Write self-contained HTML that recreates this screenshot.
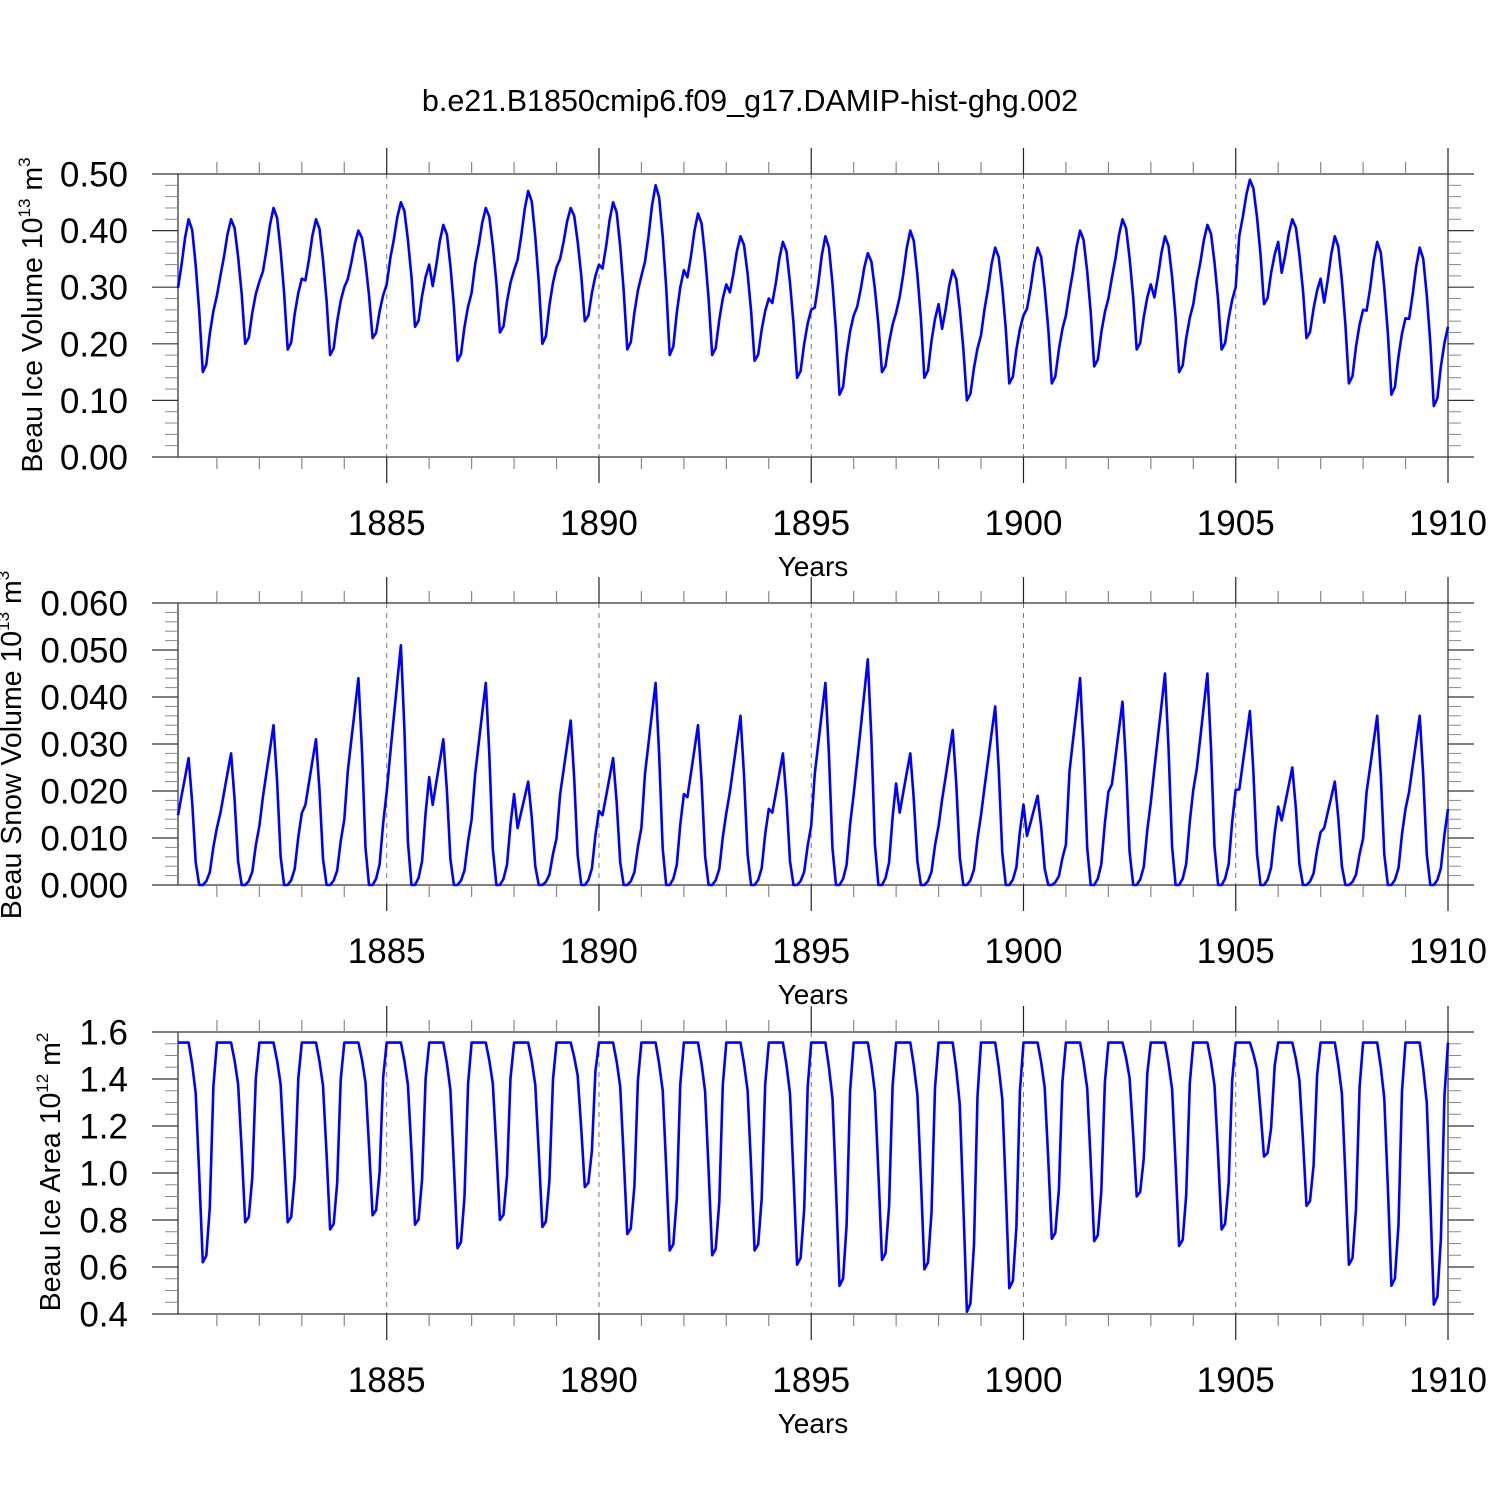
<!DOCTYPE html>
<html><head><meta charset="utf-8"><style>
html,body{margin:0;padding:0;background:#fff}
svg{display:block;font-family:"Liberation Sans",Arial,sans-serif}
</style></head><body>
<svg id="chart" width="1500" height="1500" viewBox="0 0 1500 1500" xmlns="http://www.w3.org/2000/svg">
<rect width="1500" height="1500" fill="#fff"/>
<text x="750" y="111" font-size="30.5" text-anchor="middle">b.e21.B1850cmip6.f09_g17.DAMIP-hist-ghg.002</text>
</svg>
<script>
// ---- data ----
const startYear = 1880;
const xTickYears = [1885, 1890, 1895, 1900, 1905, 1910];
// Ice volume (10^13 m^3) yearly peak / trough
const iceVolMax = [0.42,0.42,0.44,0.42,0.40,0.45,0.41,0.44,0.47,0.44,0.45,0.48,0.43,0.39,0.38,0.39,0.36,0.40,0.33,0.37,0.37,0.40,0.42,0.39,0.41,0.49,0.42,0.39,0.38,0.37];
const iceVolMin = [0.15,0.20,0.19,0.18,0.21,0.23,0.17,0.22,0.20,0.24,0.19,0.18,0.18,0.17,0.14,0.11,0.15,0.14,0.10,0.13,0.13,0.16,0.19,0.15,0.19,0.27,0.21,0.13,0.11,0.09];
const iceVolShape = [0.55,0.7,0.88,1,0.93,0.7,0.4,0,0.05,0.25,0.4,0.5];
// Snow volume (10^13 m^3) yearly peak
const snowMax = [0.027,0.028,0.034,0.031,0.044,0.051,0.031,0.043,0.022,0.035,0.027,0.043,0.034,0.036,0.028,0.043,0.048,0.028,0.033,0.038,0.019,0.044,0.039,0.045,0.045,0.037,0.025,0.022,0.036,0.036];
const snowShape = [0.55,0.7,0.85,1,0.65,0.18,0,0,0.03,0.1,0.3,0.45];
// Ice area (10^12 m^2) yearly trough, plateau
const areaMax = 1.555;
const areaMin = [0.62,0.79,0.79,0.76,0.82,0.78,0.68,0.80,0.77,0.94,0.74,0.67,0.65,0.67,0.61,0.52,0.63,0.59,0.41,0.51,0.72,0.71,0.90,0.69,0.76,1.07,0.86,0.61,0.52,0.44];
const areaShape = [1,1,1,1,0.9,0.77,0.4,0,0.03,0.25,0.8,1];

const volSeries=[], snowSeries=[], areaSeries=[];
for(let y=0;y<iceVolMax.length;y++){
  for(let m=0;m<12;m++){
    volSeries.push(iceVolMin[y]+iceVolShape[m]*(iceVolMax[y]-iceVolMin[y]));
    snowSeries.push(snowShape[m]*snowMax[y]);
    areaSeries.push(areaMin[y]+areaShape[m]*(areaMax-areaMin[y]));
  }
}

const svg=document.getElementById('chart');
const NS='http://www.w3.org/2000/svg';
function el(tag,attrs,parent){const e=document.createElementNS(NS,tag);for(const k in attrs)e.setAttribute(k,attrs[k]);(parent||svg).appendChild(e);return e;}

const X0=178, X1=1448;
const T0=startYear+1/12, T1=startYear+30;
function xScale(t){return X0+(t-T0)/(T1-T0)*(X1-X0);}

const panels=[
 {name:'ice-volume',top:174,bot:457,ymin:0,ymax:0.5,major:0.1,minorN:5,dec:2,series:volSeries,
  title:'Beau Ice Volume 10',exp:'13',unit:' m',uexp:'3',tx:42,ty:315},
 {name:'snow-volume',top:603,bot:885,ymin:0,ymax:0.06,major:0.01,minorN:5,dec:3,series:snowSeries,
  title:'Beau Snow Volume 10',exp:'13',unit:' m',uexp:'3',tx:21,ty:745},
 {name:'ice-area',top:1032,bot:1314,ymin:0.4,ymax:1.6,major:0.2,minorN:4,dec:1,series:areaSeries,
  title:'Beau Ice Area 10',exp:'12',unit:' m',uexp:'2',tx:60,ty:1172}
];

panels.forEach(p=>{
  const g=el('g',{});
  
  
  const yS=v=>p.bot-(v-p.ymin)/(p.ymax-p.ymin)*(p.bot-p.top);
  xTickYears.slice(0,5).forEach(yr=>{
    const l=el('line',{x1:xScale(yr),x2:xScale(yr),y1:p.top,y2:p.bot,stroke:'#777','stroke-width':1,'stroke-dasharray':'5,5'},g);
    
    
  });
  const fr=el('rect',{x:X0,y:p.top,width:X1-X0,height:p.bot-p.top,fill:'none',stroke:'#555','stroke-width':1.5},g);
  
  
  for(let yr=1881;yr<=1910;yr++){
    const x=xScale(yr), maj=(yr%5===0);
    el('line',{x1:x,x2:x,y1:p.top-(maj?26:12),y2:p.top,stroke:maj?'#222':'#888','stroke-width':1.2},g);
    el('line',{x1:x,x2:x,y1:p.bot,y2:p.bot+(maj?26:12),stroke:maj?'#222':'#888','stroke-width':1.2},g);
  }
  xTickYears.forEach(yr=>{
    const t=el('text',{x:xScale(yr),y:p.bot+78,'font-size':35,'text-anchor':'middle'},g);
    
    
    t.textContent=yr;
  });
  const xt=el('text',{x:813,y:p.bot+119,'font-size':28,'text-anchor':'middle'},g);
  
  
  xt.textContent='Years';
  const nMaj=Math.round((p.ymax-p.ymin)/p.major);
  for(let i=0;i<=nMaj;i++){
    const v=p.ymin+i*p.major, y=yS(v);
    el('line',{x1:152,x2:X0,y1:y,y2:y,stroke:'#333','stroke-width':1.2},g);
    el('line',{x1:X1,x2:1474,y1:y,y2:y,stroke:'#333','stroke-width':1.2},g);
    const t=el('text',{x:128,y:y+12.5,'font-size':35,'text-anchor':'end'},g);
    
    
    t.textContent=v.toFixed(p.dec);
    if(i<nMaj){
      for(let k=1;k<p.minorN;k++){
        const ym=yS(v+k*p.major/p.minorN);
        el('line',{x1:165,x2:X0,y1:ym,y2:ym,stroke:'#888','stroke-width':1},g);
        el('line',{x1:X1,x2:1461,y1:ym,y2:ym,stroke:'#888','stroke-width':1},g);
      }
    }
  }
  const yt=el('text',{x:p.tx,y:p.ty,'font-size':28.5,'text-anchor':'middle',transform:'rotate(-90 '+p.tx+' '+p.ty+')'},g);
  
  
  yt.innerHTML=p.title+'<tspan dy="-12" font-size="17">'+p.exp+'</tspan><tspan dy="12">'+p.unit+'</tspan><tspan dy="-12" font-size="17">'+p.uexp+'</tspan>';
  const pts=p.series.map((v,i)=>xScale(startYear+(i+1)/12).toFixed(1)+','+yS(v).toFixed(1)).join(' ');
  const pl=el('polyline',{points:pts,fill:'none',stroke:'#0000ff','stroke-width':2.6,'stroke-linejoin':'round'},g);
  
  
});
</script>
</body></html>
